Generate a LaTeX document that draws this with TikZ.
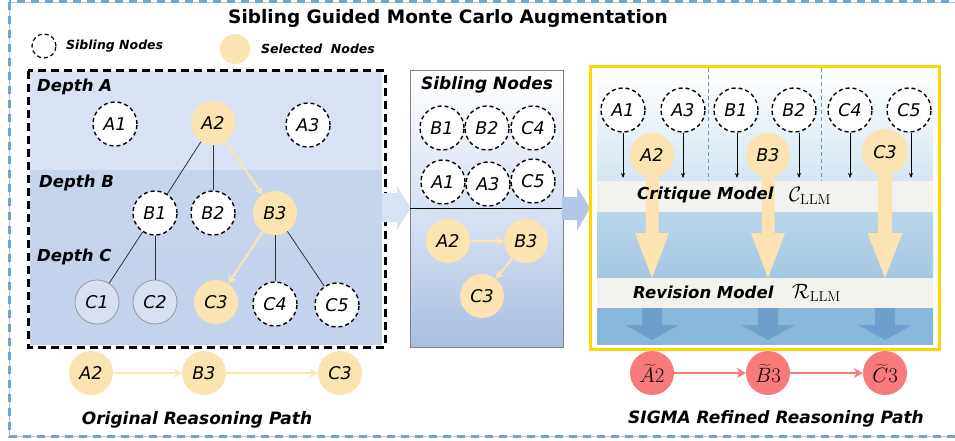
\documentclass[tikz,border=0pt]{standalone}
\usepackage{graphicx}
\usepackage[no-math]{fontspec}
\setmainfont{DejaVu Sans}
\usetikzlibrary{arrows.meta}
\definecolor{selc}{RGB}{252,228,178}
\definecolor{redc}{RGB}{248,122,122}
\definecolor{outerblue}{RGB}{111,165,210}
\definecolor{bandA}{RGB}{217,226,242}
\definecolor{bandB}{RGB}{199,213,236}
\definecolor{bandC}{RGB}{196,210,235}
\definecolor{grayfill}{RGB}{214,224,240}
\definecolor{midtop}{RGB}{214,224,242}
\definecolor{midbot}{RGB}{170,190,225}
\definecolor{bandc}{RGB}{242,243,238}
\definecolor{rtop}{RGB}{212,230,242}
\definecolor{rmidA}{RGB}{186,213,232}
\definecolor{rmidB}{RGB}{165,200,225}
\definecolor{rbot}{RGB}{136,184,218}
\definecolor{darkarrow}{RGB}{110,160,205}
\definecolor{goldc}{RGB}{255,215,0}
\definecolor{arrowA}{RGB}{213,227,245}
\definecolor{arrowB}{RGB}{180,199,231}
\definecolor{sepblue}{RGB}{91,155,213}
\begin{document}
\begin{tikzpicture}[x=1pt,y=-1pt,
  every node/.style={inner sep=0pt},
  nlab/.style={font=\fontsize{17.5}{17.5}\selectfont\itshape},
  sib/.style={circle,draw=black,line width=1.4pt,dash pattern=on 4pt off 3pt,fill=white,minimum size=44pt,nlab},
  sel/.style={circle,fill=selc,minimum size=44pt,nlab},
  pale/.style={circle,draw=gray!80,line width=0.8pt,fill=grayfill,minimum size=44pt,nlab},
  refd/.style={circle,fill=redc,minimum size=44pt,font=\fontsize{17.28}{17.28}\selectfont},
  bi/.style={font=\fontsize{#1}{#1}\selectfont\bfseries\itshape},
  tedge/.style={draw=black!80,line width=0.8pt},
  oarrow/.style={draw=selc,line width=2pt,-{Stealth[length=8pt,width=9pt]}},
  rarrow/.style={draw=redc,line width=2pt,-{Stealth[length=9pt,width=10pt]}},
  karrow/.style={draw=black,line width=0.8pt,-{Stealth[length=5pt,width=4pt]}},
  blockA/.style={fill=arrowA},
  blockB/.style={fill=arrowB},
  bigo/.style={fill=selc},
  bigb/.style={fill=darkarrow}
]
\useasboundingbox (0,0) rectangle (955,441);
% outer border
\draw[gray!50,line width=0.6pt] (9,2) rectangle (962,436);
\draw[outerblue,line width=3pt,dash pattern=on 8pt off 6pt] (9,2) rectangle (962,436);

% title
\node[font=\fontsize{18.5}{18.5}\selectfont\bfseries] (title) at (448,18) {Sibling Guided Monte Carlo Augmentation};

% legend
\node[sib,minimum size=24pt,line width=1.2pt] (legsib) at (44,46) {};
\node[bi=12.5,anchor=west] (legsibt) at (66,46) {Sibling Nodes};
\node[sel,minimum size=30pt] (legsel) at (235,49) {};
\node[bi=12.5,anchor=west] (legselt) at (261,49) {Selected\ \ Nodes};

% left box
\fill[bandA] (30,71) rectangle (382,170);
\fill[bandB] (30,170) rectangle (382,248);
\fill[bandC] (30,248) rectangle (382,345);
\draw[black,line width=3pt,dash pattern=on 8pt off 5pt] (28,71) rectangle (385,347);
\node[bi=16.5,anchor=west] (dA) at (37,87) {Depth A};
\node[bi=16.5,anchor=west] (dB) at (39,183) {Depth B};
\node[bi=16.5,anchor=west] (dC) at (37,257) {Depth C};

\node[sib] (A1) at (115,124) {A1};
\node[sel] (A2) at (213,123) {A2};
\node[sib] (A3) at (308,125) {A3};
\node[sib] (B1) at (155,213) {B1};
\node[sib] (B2) at (213,213) {B2};
\node[sel] (B3) at (275,213) {B3};
\node[pale] (C1) at (97,302) {C1};
\node[pale] (C2) at (155,302) {C2};
\node[sel] (C3) at (216,302) {C3};
\node[sib] (C4) at (275,304) {C4};
\node[sib] (C5) at (337,305) {C5};
\draw[tedge] (A2) -- (B1);
\draw[tedge] (A2) -- (B2);
\draw[oarrow] (A2) -- (B3);
\draw[tedge] (B1) -- (C1);
\draw[tedge] (B1) -- (C2);
\draw[oarrow] (B3) -- (C3);
\draw[tedge] (B3) -- (C4);
\draw[tedge] (B3) -- (C5);

% original path
\node[sel] (PA) at (91,373) {A2};
\node[sel] (PB) at (204,373) {B3};
\node[sel] (PC) at (340,373) {C3};
\draw[oarrow] (PA) -- (PB);
\draw[oarrow] (PB) -- (PC);
\node[bi=17] (origt) at (197,420) {Original Reasoning Path};

% block arrow 1
\path[blockA] (382,193) -- (397,193) -- (397,186) -- (411,208) -- (397,230) -- (397,222) -- (382,222) -- cycle;

% middle box
\shade[top color=white,bottom color=midtop] (410,70) rectangle (563,208);
\shade[top color=midtop!90!white,bottom color=midbot] (410,208) rectangle (563,347);
\draw[gray,line width=0.8pt] (410,70) rectangle (563,347);
\draw[black,line width=0.8pt] (410,208) -- (563,208);
\node[bi=17] (midt) at (487,85) {Sibling Nodes};
\node[sib] (mB1) at (442,128) {B1};
\node[sib] (mB2) at (487,128) {B2};
\node[sib] (mC4) at (533,128) {C4};
\node[sib] (mA1) at (443,182) {A1};
\node[sib] (mA3) at (488,184) {A3};
\node[sib] (mC5) at (533,181) {C5};
\node[sel] (mA2) at (448,241) {A2};
\node[sel] (mB3) at (526,241) {B3};
\node[sel] (mC3) at (482,296) {C3};
\draw[oarrow] (mA2) -- (mB3);
\draw[oarrow] (mB3) -- (mC3);

% block arrow 2
\path[blockB] (562,197) -- (577,197) -- (577,187) -- (590,208) -- (577,231) -- (577,220) -- (562,220) -- cycle;

% right box
\shade[top color=white,bottom color=rtop] (597,70) rectangle (933,181);
\fill[bandc] (597,181) rectangle (933,212);
\shade[top color=rmidA,bottom color=rmidB] (597,212) rectangle (933,278);
\fill[bandc] (597,278) rectangle (933,308);
\fill[rbot] (597,308) rectangle (933,345);
\draw[sepblue,line width=1pt,dash pattern=on 4pt off 3pt] (708,68) -- (708,181);
\draw[sepblue,line width=1pt,dash pattern=on 4pt off 3pt] (821,68) -- (821,181);

% big orange arrows
\path[bigo] (645.5,160) -- (658.5,160) -- (658.5,233) -- (669,233) -- (652,278) -- (635,233) -- (645.5,233) -- cycle;
\path[bigo] (761.5,160) -- (774.5,160) -- (774.5,233) -- (785,233) -- (768,278) -- (751,233) -- (761.5,233) -- cycle;
\path[bigo] (878,160) -- (892,160) -- (892,233) -- (902.5,233) -- (885,278) -- (867.5,233) -- (878,233) -- cycle;

% blue down arrows
\foreach \cx in {652,768,885}{
  \path[bigb] (\cx-10,308) -- (\cx+10,308) -- (\cx+10,325) -- (\cx+27,325) -- (\cx,340) -- (\cx-27,325) -- (\cx-10,325) -- cycle;
}

\node[sib] (rA1) at (623,110) {A1};
\node[sib] (rA3) at (683,110) {A3};
\node[sib] (rB1) at (736,110) {B1};
\node[sib] (rB2) at (794,110) {B2};
\node[sib] (rC4) at (850,110) {C4};
\node[sib] (rC5) at (909,110) {C5};
\coordinate (eA1) at (623,178);
\coordinate (eA3) at (683,178);
\coordinate (eB1) at (737,178);
\coordinate (eB2) at (799,178);
\coordinate (eC4) at (850,178);
\coordinate (eC5) at (911,178);
\draw[karrow] (rA1.south) -- (eA1);
\draw[karrow] (rA3.south) -- (eA3);
\draw[karrow] ([xshift=1pt]rB1.south) -- (eB1);
\draw[karrow] ([xshift=5pt]rB2.south) -- (eB2);
\draw[karrow] (rC4.south) -- (eC4);
\draw[karrow] ([xshift=2pt]rC5.south) -- (eC5);

\node[sel] (rA2) at (652,155) {A2};
\node[sel] (rB3) at (768,155) {B3};
\node[sel,minimum size=46pt] (rC3) at (885,152) {C3};

\node[bi=16.5,anchor=west] (crit) at (637,195) {Critique Model};
\node[font=\fontsize{20.74}{20.74}\selectfont,anchor=west] (critm) at (789,196) {$\mathcal{C}_{\mathrm{LLM}}$};
\node[bi=16.5,anchor=west] (rev) at (633,292) {Revision Model};
\node[font=\fontsize{20.74}{20.74}\selectfont,anchor=west] (revm) at (792,293) {$\mathcal{R}_{\mathrm{LLM}}$};

\draw[goldc,line width=3pt] (590,67) rectangle (939,349);

% refined path
\node[refd] (fA) at (652,373) {\scalebox{1.2}{$\widetilde{A}2$}};
\node[refd] (fB) at (768,373) {\scalebox{1.2}{$\widetilde{B}3$}};
\node[refd] (fC) at (885,373) {\scalebox{1.2}{$\widetilde{C}3$}};
\draw[rarrow] (fA) -- (fB);
\draw[rarrow] (fB) -- (fC);
\node[bi=17] (sigt) at (776,419) {SIGMA Refined Reasoning Path};
\end{tikzpicture}
\end{document}
